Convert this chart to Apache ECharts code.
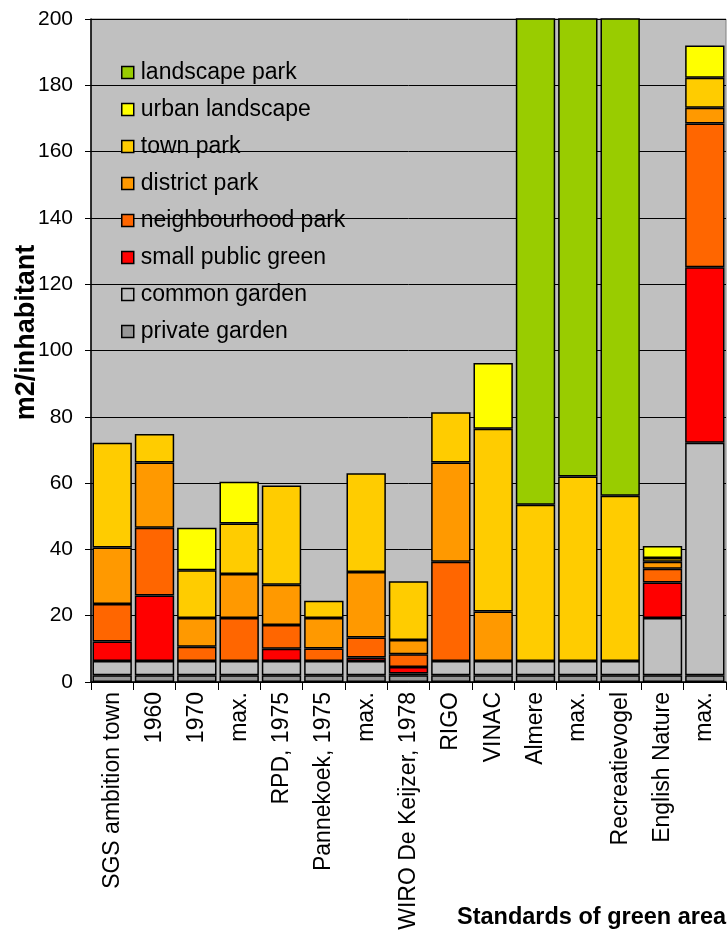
<!DOCTYPE html>
<html>
<head>
<meta charset="utf-8">
<script src="https://cdn.jsdelivr.net/npm/echarts@6/dist/echarts.min.js"></script>
<style>
html,body{margin:0;padding:0;background:#fff;}
#chart{width:728px;height:938px;}
</style>
</head>
<body>
<div id="chart"></div>
<script>
var categories = ['SGS ambition town','1960','1970','max.','RPD, 1975','Pannekoek, 1975','max.','WIRO De Keijzer, 1978','RIGO','VINAC','Almere','max.','Recreatievogel','English Nature','max.'];
var yTicks = [0,20,40,60,80,100,120,140,160,180,200];

var privateGarden      = [2,   2,   2,   2,   2,   2,   2,   2,   2,   2,   2,   2,   2,   2,    2];
var commonGarden       = [4.3, 4.3, 4.3, 4.3, 4.3, 4.3, 4.3, 0.6, 4.3, 4.3, 4.3, 4.3, 4.3, 17.3, 70.2];
var smallPublicGreen   = [5.9, 19.8, null, null, 3.7, null, 1.1, 1.9, null, null, null, null, null, 10.7, 52.9];
var neighbourhoodPark  = [11.3, 20.4, 4.3, 13.0, 7.2, 3.8, 6.0, 3.9, 30.0, null, null, null, null, 4.2, 43.4];
var districtPark       = [17.1, 19.7, 8.7, 13.3, 12.1, 9.2, 19.8, 4.3, 29.9, 15.0, null, null, null, 2.1, 4.7];
var townPark           = [31.6, 8.6, 14.4, 15.2, 30.0, 5.2, 29.8, 17.7, 15.2, 55.1, 47.2, 55.7, 49.9, 1.1, 9.1];
var urbanLandscape     = [null, null, 12.8, 12.6, null, null, null, null, null, 19.8, null, null, null, 3.6, 9.7];
var landscapePark      = [null, null, null, null, null, null, null, null, null, null, 150, 150, 150, null, null];

var seriesDefs = [
  ['private garden', privateGarden, '#969696'],
  ['common garden', commonGarden, '#c0c0c0'],
  ['small public green', smallPublicGreen, '#ff0000'],
  ['neighbourhood park', neighbourhoodPark, '#ff6600'],
  ['district park', districtPark, '#ff9900'],
  ['town park', townPark, '#ffcc00'],
  ['urban landscape', urbanLandscape, '#ffff00'],
  ['landscape park', landscapePark, '#99cc00']
];

var FONT = 'Liberation Sans, Arial, sans-serif';
var series = seriesDefs.map(function(d){
  return {
    name: d[0], type: 'bar', stack: 'total', data: d[1],
    barCategoryGap: '7%',
    itemStyle: {color: d[2], borderColor: '#000', borderWidth: 1.5},
    emphasis: {disabled: true},
    animation: false
  };
});

var chart = echarts.init(document.getElementById('chart'), null, {renderer: 'canvas'});
chart.setOption({
  animation: false,
  backgroundColor: '#fff',
  title: {
    text: 'Standards of green area',
    left: 452, top: 901,
    textStyle: {fontFamily: FONT, fontSize: 23.5, fontWeight: 'bold', color: '#000'}
  },
  legend: {
    orient: 'vertical', left: 116, top: 56,
    itemWidth: 12, itemHeight: 12, itemGap: 14,
    icon: 'rect',
    itemStyle: {borderColor: '#000', borderWidth: 1.5},
    data: seriesDefs.map(function(d){return d[0];}).reverse(),
    textStyle: {fontFamily: FONT, fontSize: 23, color: '#000', padding: [0,0,0,2]}
  },
  grid: {
    left: 91, right: 2, top: 19, bottom: 256,
    outerBoundsMode: 'none', containLabel: false,
    show: true, backgroundColor: '#c0c0c0', borderColor: '#808080', borderWidth: 1
  },
  xAxis: {
    type: 'category', data: categories,
    axisLine: {lineStyle: {color: '#000', width: 1.5}},
    axisTick: {show: true, length: 8, lineStyle: {color: '#000'}},
    axisLabel: {interval: 0, rotate: 90, fontFamily: FONT, fontSize: 23, color: '#000', margin: 10}
  },
  yAxis: {
    type: 'value', min: yTicks[0], max: yTicks[yTicks.length-1], interval: 20,
    name: 'm2/inhabitant', nameLocation: 'middle', nameGap: 51, nameMoveOverlap: false,
    nameTextStyle: {fontFamily: FONT, fontSize: 27, fontWeight: 'bold', color: '#000', padding: [0,0,0,36]},
    axisLine: {show: true, lineStyle: {color: '#000', width: 1.5}},
    axisTick: {show: true, inside: false, length: 6, lineStyle: {color: '#000'}},
    axisLabel: {fontFamily: FONT, fontSize: 21, color: '#000', margin: 18},
    splitLine: {show: true, lineStyle: {color: '#000', width: 1}}
  },
  series: series
});
</script>
</body>
</html>
